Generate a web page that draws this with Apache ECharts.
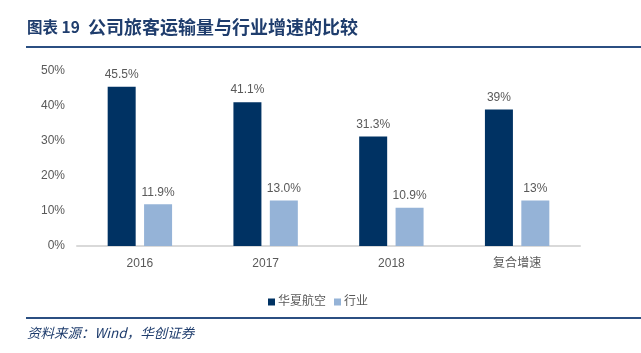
<!DOCTYPE html>
<html>
<head>
<meta charset="utf-8">
<script src="https://cdn.jsdelivr.net/npm/echarts@6/dist/echarts.min.js"></script>
<style>
  html, body { margin: 0; padding: 0; background: #fff; }
  #chart { width: 641px; height: 353px; }
</style>
</head>
<body>
<div id="chart"></div>
<script>
// data
var categories = ["2016", "2017", "2018", "复合增速"];
var seriesNames = ["华夏航空", "行业"];
var companyValues = [45.5, 41.1, 31.3, 39];
var industryValues = [11.9, 13.0, 10.9, 13];
var companyLabels = ["45.5%", "41.1%", "31.3%", "39%"];
var industryLabels = ["11.9%", "13.0%", "10.9%", "13%"];

var chart = echarts.init(document.getElementById("chart"));
var font = "Arial, 'Liberation Sans', 'Noto Sans CJK SC', sans-serif";
var titleFont = "'Noto Sans CJK SC', sans-serif";

chart.setOption({
  animation: false,
  textStyle: { fontFamily: font },
  graphic: [
    {
      type: "text",
      left: 27,
      top: 19,
      style: {
        text: "图表 19",
        fontSize: 15.5,
        fontWeight: "bold",
        fill: "#1f3d6d",
        fontFamily: titleFont
      }
    },
    {
      type: "text",
      left: 88,
      top: 18,
      style: {
        text: "公司旅客运输量与行业增速的比较",
        fontSize: 18,
        fontWeight: "bold",
        fill: "#1f3d6d",
        fontFamily: titleFont
      }
    },
    {
      type: "rect",
      shape: { x: 26, y: 46, width: 615, height: 2 },
      style: { fill: "#2b4f82" }
    },
    {
      type: "rect",
      shape: { x: 26, y: 317, width: 615, height: 2 },
      style: { fill: "#2b4f82" }
    },
    {
      type: "text",
      left: 27,
      top: 326,
      style: {
        text: "资料来源：Wind，华创证券",
        fontSize: 13.5,
        fontStyle: "italic",
        fill: "#1f3d6d",
        fontFamily: titleFont
      }
    }
  ],
  legend: {
    data: seriesNames,
    left: 263,
    top: 291,
    itemWidth: 7,
    itemHeight: 7,
    itemGap: 8,
    icon: "rect",
    selectedMode: false,
    textStyle: { fontSize: 12, color: "#595959", padding: [0, 0, 0, -2] }
  },
  grid: {
    left: 77,
    right: 61,
    top: 71,
    bottom: 107
  },
  xAxis: {
    type: "category",
    data: categories,
    axisLine: { lineStyle: { color: "#d9d9d9", width: 2 } },
    axisTick: { show: false },
    axisLabel: { color: "#595959", fontSize: 12, margin: 12 }
  },
  yAxis: {
    type: "value",
    min: 0,
    max: 50,
    interval: 10,
    splitLine: { show: false },
    axisLine: { show: false },
    axisTick: { show: false },
    axisLabel: { color: "#595959", fontSize: 12, margin: 12, formatter: "{value}%" }
  },
  series: [
    {
      name: seriesNames[0],
      type: "bar",
      data: companyValues,
      barWidth: 28,
      barGap: "30%",
      itemStyle: { color: "#003263" },
      label: {
        show: true,
        position: "top",
        distance: 6,
        color: "#595959",
        fontSize: 12,
        formatter: function (p) { return companyLabels[p.dataIndex]; }
      }
    },
    {
      name: seriesNames[1],
      type: "bar",
      data: industryValues,
      barWidth: 28,
      itemStyle: { color: "#95b3d7" },
      label: {
        show: true,
        position: "top",
        distance: 6,
        color: "#595959",
        fontSize: 12,
        formatter: function (p) { return industryLabels[p.dataIndex]; }
      }
    }
  ]
});
</script>
</body>
</html>
